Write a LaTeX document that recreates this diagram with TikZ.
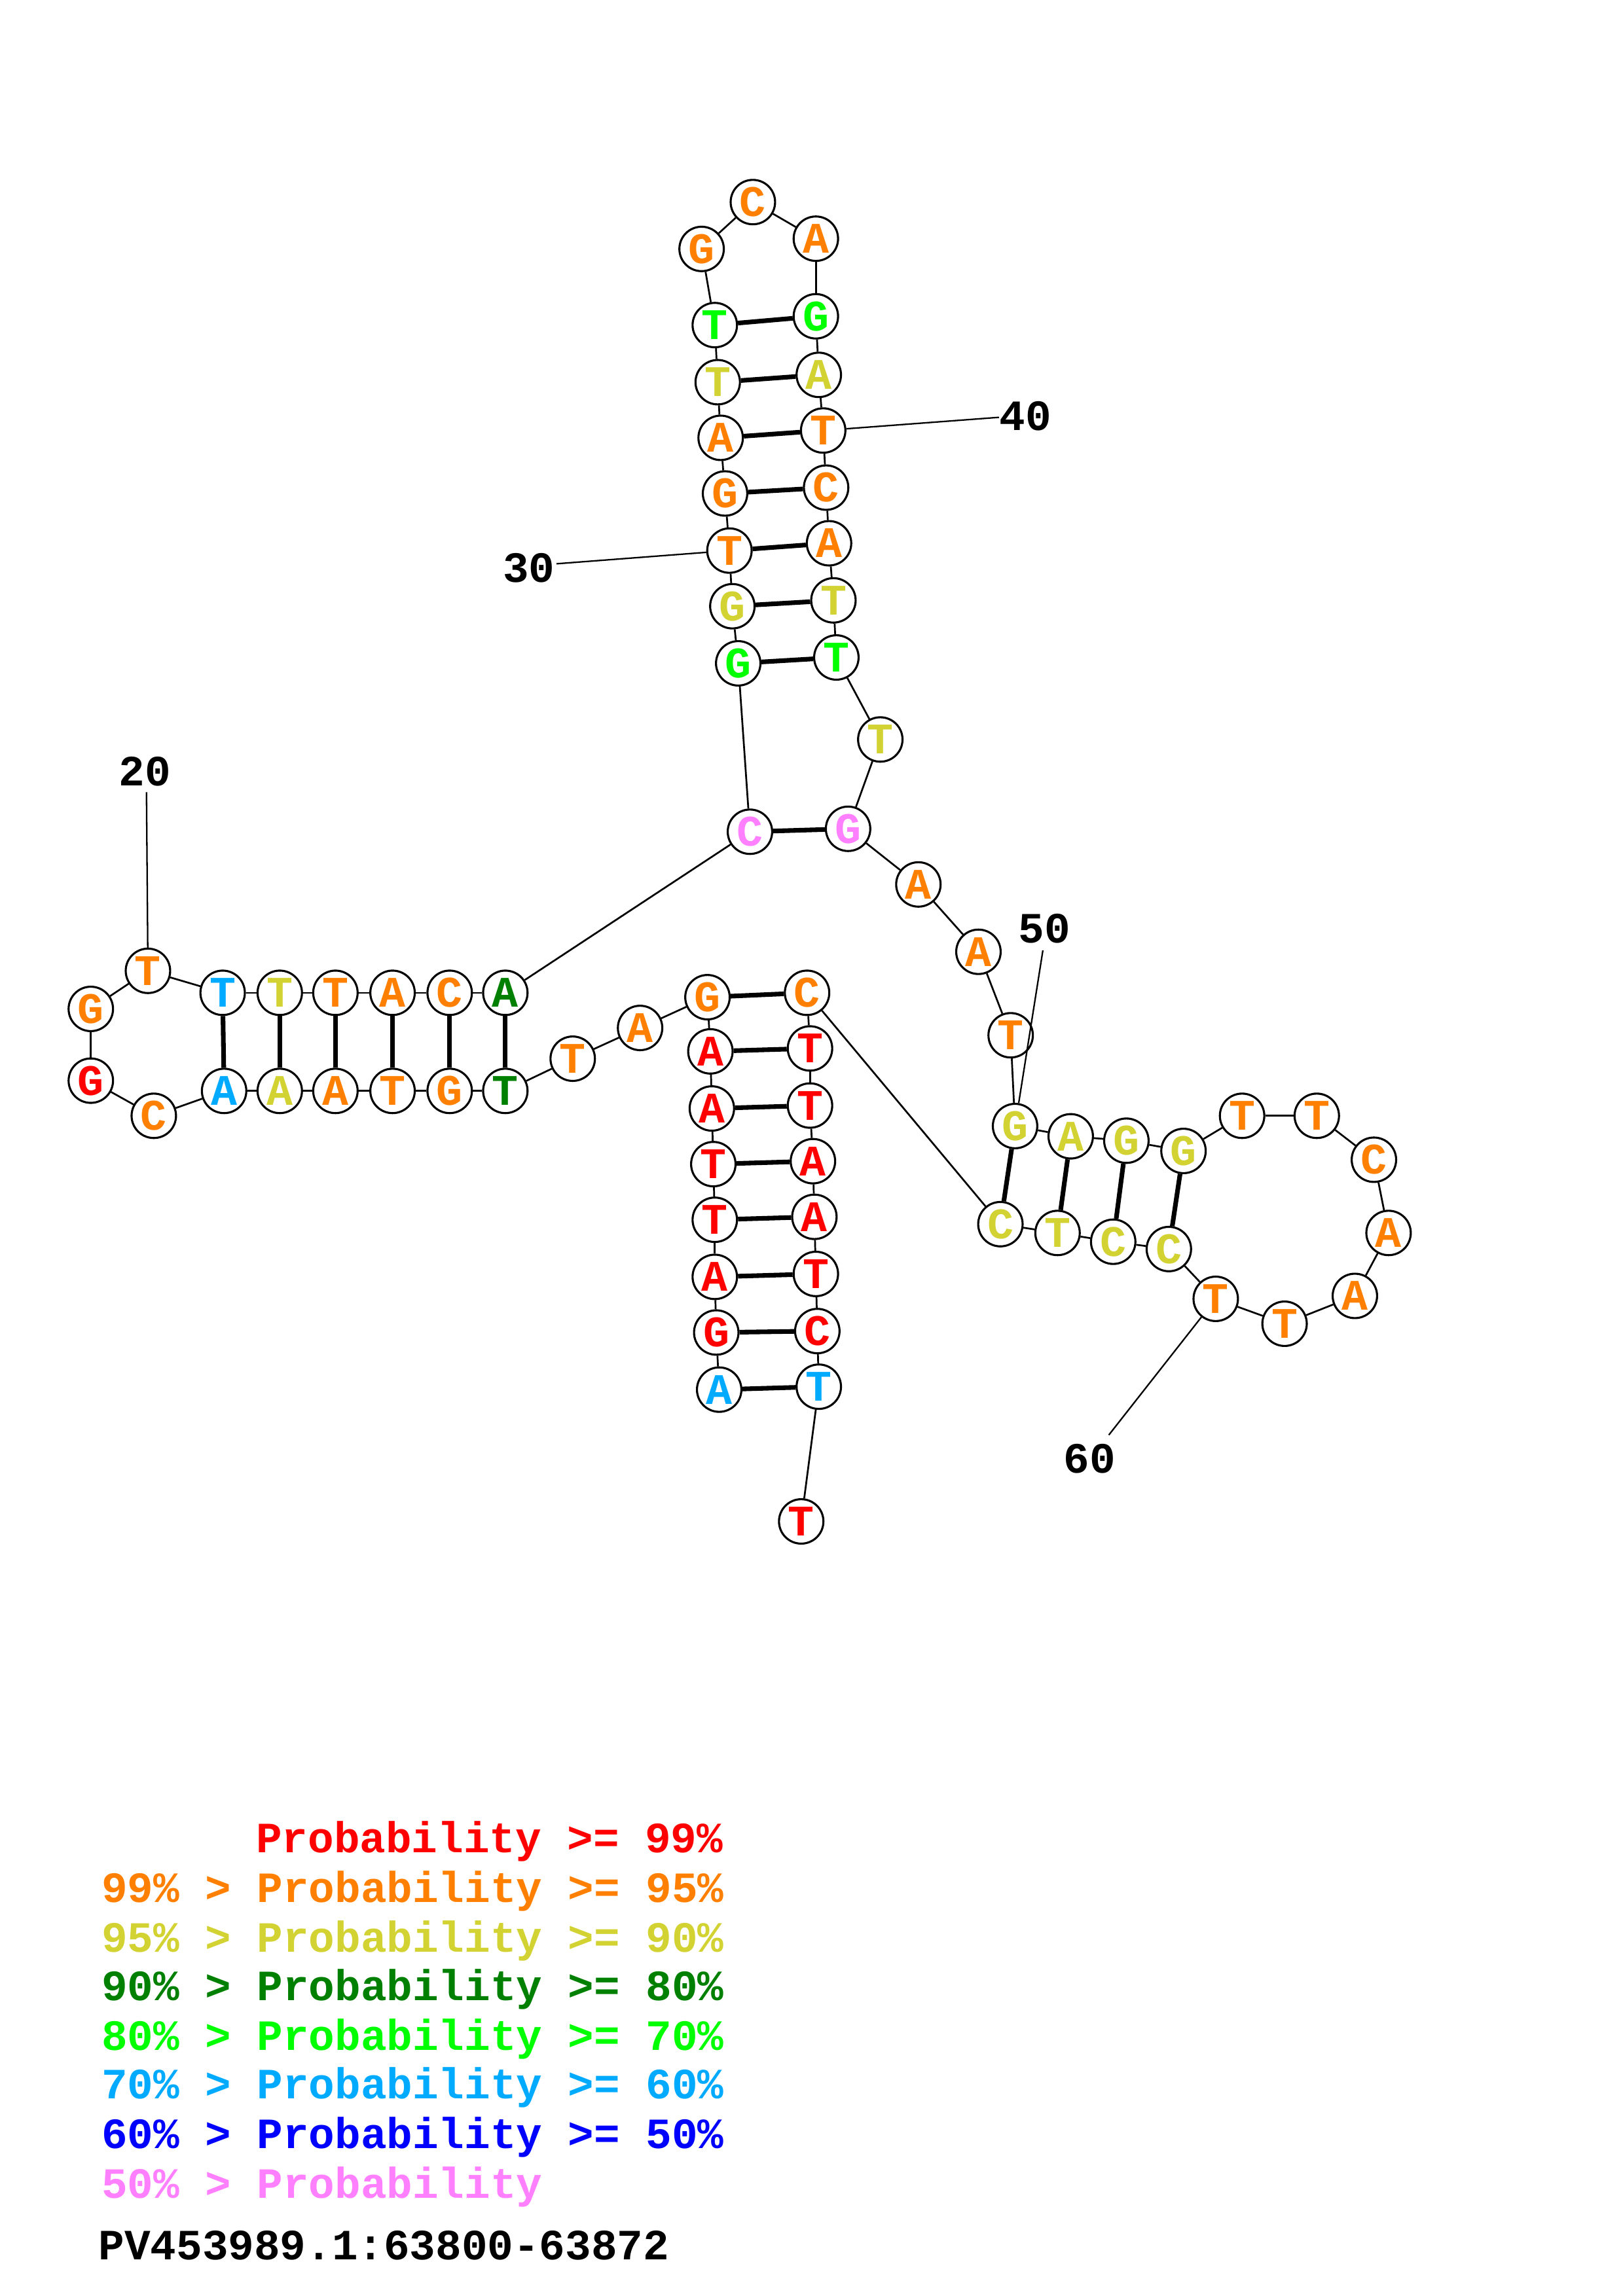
\documentclass[tikz,border=0pt]{standalone}
\usepackage{fontspec}
\setmonofont{Liberation Mono}
\definecolor{cRed}{RGB}{255,0,0}
\definecolor{cOra}{RGB}{255,128,0}
\definecolor{cYel}{RGB}{210,210,50}
\definecolor{cDkg}{RGB}{0,128,0}
\definecolor{cLim}{RGB}{0,255,0}
\definecolor{cSky}{RGB}{0,170,255}
\definecolor{cBlu}{RGB}{0,0,255}
\definecolor{cPnk}{RGB}{255,128,255}
\newcommand\nuc[5]{\node[nt,text=#5] (n#1) at (#2,#3) {\raisebox{-1pt}{#4}};}
\begin{document}
\begin{tikzpicture}[x=0.5373pt,y=-0.5373pt,
  nt/.style={circle,draw,line width=0.75pt,fill=white,minimum size=16.3pt,inner sep=0pt,font=\ttfamily\bfseries\fontsize{16}{16}\selectfont},
  bb/.style={line width=0.65pt},
  bp/.style={line width=1.7pt},
  tick/.style={line width=0.55pt},
  lbl/.style={font=\ttfamily\bfseries\fontsize{15.85}{16}\selectfont,inner sep=0pt},
  leg/.style={font=\ttfamily\bfseries\fontsize{15.85}{16}\selectfont,inner sep=0pt,anchor=base west}]
\useasboundingbox (0,0) rectangle (1108,1568);
% middle stem left (5' end)
\nuc{1}{491}{949}{A}{cSky}
\nuc{2}{489}{910}{G}{cRed}
\nuc{3}{488}{872}{A}{cRed}
\nuc{4}{488}{833}{T}{cRed}
\nuc{5}{487}{795}{T}{cRed}
\nuc{6}{486}{757}{A}{cRed}
\nuc{7}{485}{718}{A}{cRed}
\nuc{8}{483}{681}{G}{cOra}
\nuc{9}{437}{702}{A}{cOra}
\nuc{10}{391}{723}{T}{cOra}
% left hairpin
\nuc{11}{345}{745}{T}{cDkg}
\nuc{12}{307}{745}{G}{cOra}
\nuc{13}{268}{745}{T}{cOra}
\nuc{14}{229}{745}{A}{cOra}
\nuc{15}{191}{745}{A}{cYel}
\nuc{16}{153}{745}{A}{cSky}
\nuc{17}{105}{762}{C}{cOra}
\nuc{18}{62}{738}{G}{cRed}
\nuc{19}{62}{689}{G}{cOra}
\nuc{20}{101}{663}{T}{cOra}
\nuc{21}{152}{678}{T}{cSky}
\nuc{22}{191}{678}{T}{cYel}
\nuc{23}{229}{678}{T}{cOra}
\nuc{24}{268}{678}{A}{cOra}
\nuc{25}{307}{678}{C}{cOra}
\nuc{26}{345}{678}{A}{cDkg}
% top hairpin
\nuc{27}{512}{568}{C}{cPnk}
\nuc{28}{504}{453}{G}{cLim}
\nuc{29}{500}{414}{G}{cYel}
\nuc{30}{498}{376}{T}{cOra}
\nuc{31}{495}{337}{G}{cOra}
\nuc{32}{492}{299}{A}{cOra}
\nuc{33}{490}{261}{T}{cYel}
\nuc{34}{488}{222}{T}{cLim}
\nuc{35}{479}{170}{G}{cOra}
\nuc{36}{514}{138}{C}{cOra}
\nuc{37}{557}{163}{A}{cOra}
\nuc{38}{557}{216}{G}{cLim}
\nuc{39}{559}{256}{A}{cYel}
\nuc{40}{562}{294}{T}{cOra}
\nuc{41}{564}{333}{C}{cOra}
\nuc{42}{566}{371}{A}{cOra}
\nuc{43}{569}{410}{T}{cYel}
\nuc{44}{571}{449}{T}{cLim}
\nuc{45}{601}{505}{T}{cYel}
\nuc{46}{579}{566}{G}{cPnk}
\nuc{47}{627}{604}{A}{cOra}
\nuc{48}{668}{650}{A}{cOra}
\nuc{49}{690}{707}{T}{cOra}
% right hairpin
\nuc{50}{693}{769}{G}{cYel}
\nuc{51}{731}{776}{A}{cYel}
\nuc{52}{769}{779}{G}{cYel}
\nuc{53}{808}{786}{G}{cYel}
\nuc{54}{848}{762}{T}{cOra}
\nuc{55}{899}{762}{T}{cOra}
\nuc{56}{938}{792}{C}{cOra}
\nuc{57}{948}{842}{A}{cOra}
\nuc{58}{925}{885}{A}{cOra}
\nuc{59}{877}{904}{T}{cOra}
\nuc{60}{830}{887}{T}{cOra}
\nuc{61}{798}{853}{C}{cYel}
\nuc{62}{760}{848}{C}{cYel}
\nuc{63}{722}{842}{T}{cYel}
\nuc{64}{683}{836}{C}{cYel}
% middle stem right (3' end)
\nuc{65}{551}{678}{C}{cOra}
\nuc{66}{553}{716}{T}{cRed}
\nuc{67}{553}{755}{T}{cRed}
\nuc{68}{555}{793}{A}{cRed}
\nuc{69}{556}{831}{A}{cRed}
\nuc{70}{557}{870}{T}{cRed}
\nuc{71}{558}{909}{C}{cRed}
\nuc{72}{559}{947}{T}{cSky}
\nuc{73}{547}{1039}{T}{cRed}
% backbone
\foreach \i [evaluate=\i as \j using int(\i+1)] in {1,...,72}
  \draw[bb] (n\i) -- (n\j);
% base pairs
\foreach \a/\b in {1/72,2/71,3/70,4/69,5/68,6/67,7/66,8/65,
  11/26,12/25,13/24,14/23,15/22,16/21,27/46,
  28/44,29/43,30/42,31/41,32/40,33/39,34/38,
  50/64,51/63,52/62,53/61}
  \draw[bp] (n\a) -- (n\b);
% position labels
\node[lbl] (k20) at (99,527) {20};
\node[lbl] (k30) at (361,388) {30};
\node[lbl] (k40) at (700,284) {40};
\node[lbl] (k50) at (713,634) {50};
\node[lbl] (k60) at (744,996) {60};
\coordinate (t20) at (100,541);
\coordinate (t30) at (380,385);
\coordinate (t40) at (682,285);
\coordinate (t50) at (712,649);
\coordinate (t60) at (757,980);
\draw[tick] (t20) -- (n20);
\draw[tick] (t30) -- (n30);
\draw[tick] (t40) -- (n40);
\draw[tick] (t50) -- (n50);
\draw[tick] (t60) -- (n60);
% legend
\node[leg,text=cRed] (g1) at (174.5,1265) {Probability >= 99\%};
\node[leg,text=cOra] (g2) at (69,1299) {99\% > Probability >= 95\%};
\node[leg,text=cYel] (g3) at (69,1333) {95\% > Probability >= 90\%};
\node[leg,text=cDkg] (g4) at (69,1366) {90\% > Probability >= 80\%};
\node[leg,text=cLim] (g5) at (69,1400) {80\% > Probability >= 70\%};
\node[leg,text=cSky] (g6) at (69,1433) {70\% > Probability >= 60\%};
\node[leg,text=cBlu] (g7) at (69,1467) {60\% > Probability >= 50\%};
\node[leg,text=cPnk] (g8) at (69,1501) {50\% > Probability};
\node[leg,text=black] (g9) at (67,1543) {PV453989.1:63800-63872};
\end{tikzpicture}
\end{document}
